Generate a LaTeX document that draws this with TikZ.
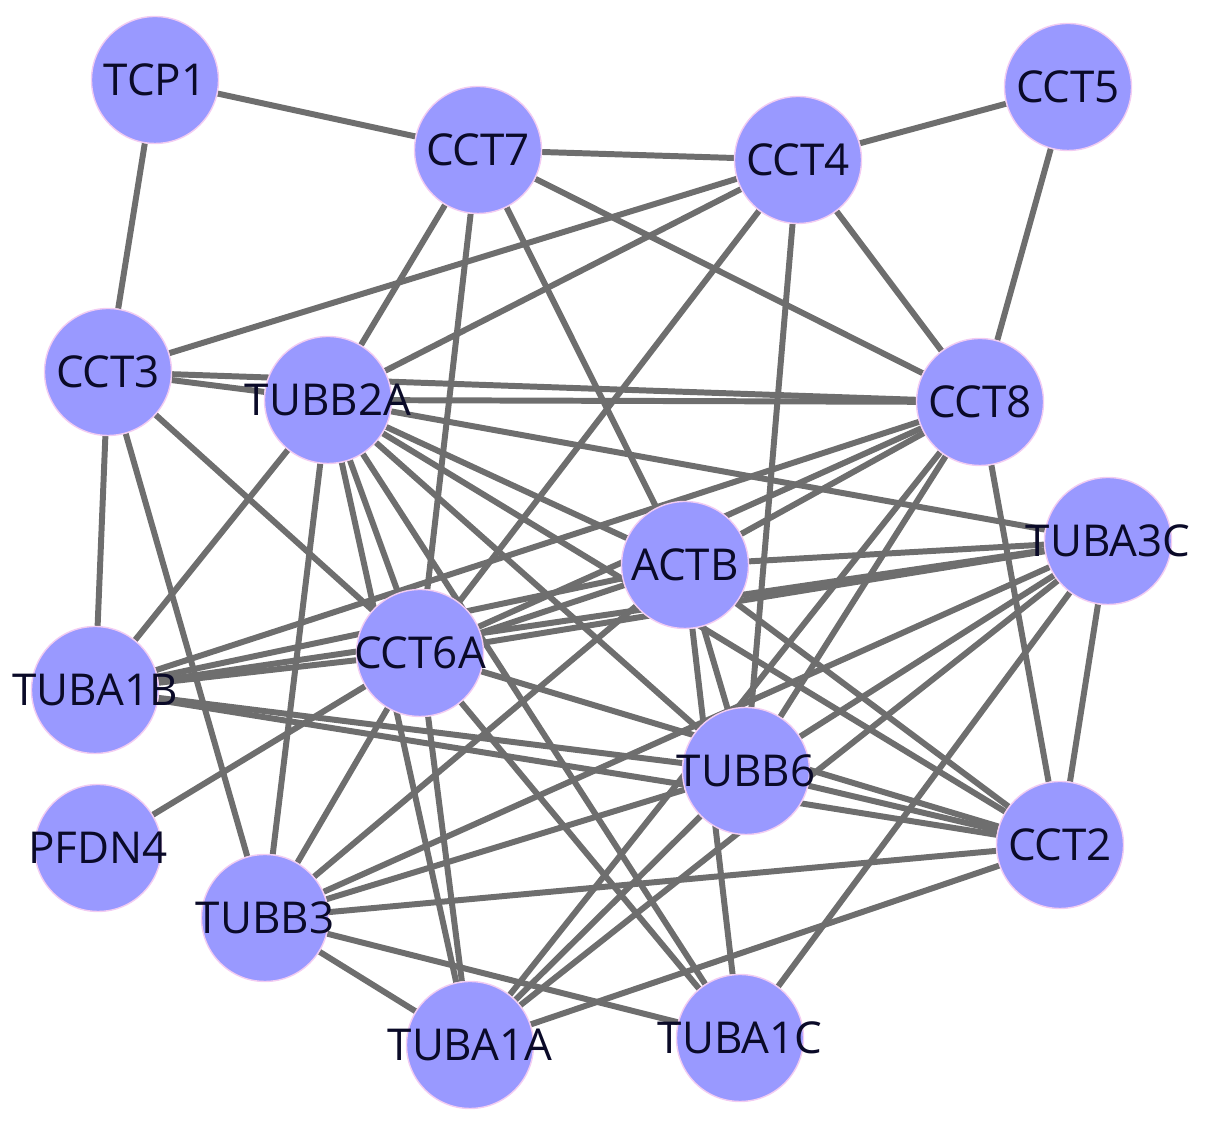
\documentclass[tikz,border=0pt]{standalone}
\usepackage{fontspec}
\setmainfont{Open Sans}
\usetikzlibrary{backgrounds}
\definecolor{ppi-node}{HTML}{9999FF}
\definecolor{ppi-rim}{HTML}{F2CCF2}
\definecolor{ppi-edge}{HTML}{6E6E6E}
\definecolor{ppi-ink}{HTML}{0A0A28}

\begin{document}
\begin{tikzpicture}[x=0.1mm, y=-0.1mm, line cap=round,
  gene/.style={circle, fill=ppi-node, draw=ppi-rim, line width=0.4pt,
    minimum size=12.7mm, inner sep=0pt},
  genetext/.style={text=ppi-ink, font=\fontsize{12.5}{13}\selectfont},
  link/.style={draw=ppi-edge, line width=1.7pt}]
  \useasboundingbox (0,0) rectangle (1205,1126);
  % gener
  \node[gene, label={[genetext]center:TCP1}]   (tcp1)   at (155,80)   {};
  \node[gene, label={[genetext]center:CCT7}]   (cct7)   at (478,150)  {};
  \node[gene, label={[genetext]center:CCT4}]   (cct4)   at (798,160)  {};
  \node[gene, label={[genetext]center:CCT5}]   (cct5)   at (1068,87)  {};
  \node[gene, label={[genetext]center:CCT3}]   (cct3)   at (108,372)  {};
  \node[gene, label={[genetext]center:TUBB2A}] (tubb2a) at (328,400)  {};
  \node[gene, label={[genetext]center:CCT8}]   (cct8)   at (980,402)  {};
  \node[gene, label={[genetext]center:TUBA3C}] (tuba3c) at (1108,541) {};
  \node[gene, label={[genetext]center:ACTB}]   (actb)   at (685,565)  {};
  \node[gene, label={[genetext]center:CCT6A}]  (cct6a)  at (420,653)  {};
  \node[gene, label={[genetext]center:TUBA1B}] (tuba1b) at (95,690)   {};
  \node[gene, label={[genetext]center:TUBB6}]  (tubb6)  at (746,771)  {};
  \node[gene, label={[genetext]center:CCT2}]   (cct2)   at (1060,845) {};
  \node[gene, label={[genetext]center:PFDN4}]  (pfdn4)  at (98,848)   {};
  \node[gene, label={[genetext]center:TUBB3}]  (tubb3)  at (265,918)  {};
  \node[gene, label={[genetext]center:TUBA1A}] (tuba1a) at (470,1045) {};
  \node[gene, label={[genetext]center:TUBA1C}] (tuba1c) at (740,1038) {};
  % kanter
  \begin{pgfonlayer}{background}
    \foreach \a/\b in {tcp1/cct7, tcp1/cct3, cct5/cct4, cct5/cct8,
        cct7/cct4, cct7/cct8, cct7/tubb2a, cct7/cct6a, cct7/actb,
        cct4/cct3, cct4/tubb2a, cct4/cct8, cct4/cct6a, cct4/tubb6,
        cct3/tubb2a, cct3/cct8, cct3/tuba1b, cct3/tubb3, cct3/cct6a,
        tubb2a/cct8, tubb2a/tuba3c, tubb2a/actb, tubb2a/cct2, tubb2a/tubb6,
        tubb2a/tuba1c, tubb2a/cct6a, tubb2a/tuba1a, tubb2a/tubb3, tubb2a/tuba1b,
        cct8/tuba1b, cct8/cct6a, cct8/actb, cct8/tubb6, cct8/tuba1a, cct8/cct2,
        tuba3c/actb, tuba3c/cct6a, tuba3c/tuba1b, tuba3c/tubb6, tuba3c/tubb3,
        tuba3c/tuba1a, tuba3c/tuba1c, tuba3c/cct2,
        actb/cct6a, actb/tuba1b, actb/tubb6, actb/tuba1c, actb/cct2, actb/tubb3,
        cct6a/tuba1b, cct6a/tubb3, cct6a/tuba1a, cct6a/tuba1c, cct6a/cct2, cct6a/pfdn4,
        tuba1b/tubb6, tuba1b/cct2, tubb6/cct2, tubb6/tubb3, tubb6/tuba1a,
        cct2/tubb3, cct2/tuba1a, tubb3/tuba1a, tubb3/tuba1c}{
      \draw[link] (\a) -- (\b);
    }
  \end{pgfonlayer}
\end{tikzpicture}
\end{document}
